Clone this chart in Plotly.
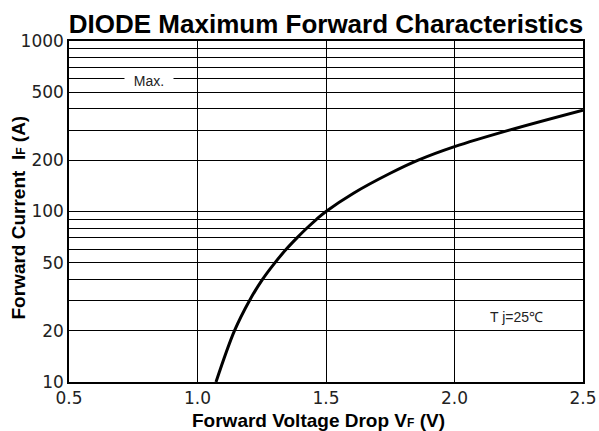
import math
import plotly.graph_objects as go

# Curve (forward voltage V, forward current A)
vf = [1.072, 1.144, 1.202, 1.253, 1.301, 1.345, 1.387, 1.426, 1.463, 1.50, 1.607, 1.748, 1.859, 2.00, 2.213, 2.50]
i_f = [10, 20, 30, 40, 50, 60, 70, 80, 90, 100, 128, 167, 200, 240, 300, 393]

x_ticks = [0.5, 1.0, 1.5, 2.0, 2.5]
y_grid = [10, 20, 30, 40, 50, 60, 70, 80, 90, 100, 200, 300, 400, 500, 600, 700, 800, 900, 1000]
y_labels = {10: "10", 20: "20", 50: "50", 100: "100", 200: "200", 500: "500", 1000: "1000"}
y_ticktext = [y_labels.get(v, "") for v in y_grid]

FONT = "Liberation Sans, Arial, sans-serif"
TICKFONT = "DejaVu Sans, sans-serif"

fig = go.Figure()
fig.add_trace(go.Scatter(x=vf, y=i_f, mode="lines",
                         line=dict(color="black", width=3, shape="spline", smoothing=1.0),
                         showlegend=False, hoverinfo="skip"))

fig.update_layout(
    width=599, height=431,
    margin=dict(l=69, r=16, t=41, b=49),
    paper_bgcolor="white", plot_bgcolor="white",
    font=dict(family=FONT, color="#111"),
    title=dict(text="<b>DIODE Maximum Forward Characteristics</b>",
               font=dict(size=26, color="black", family=FONT),
               x=0.5, xref="paper", xanchor="center",
               y=1 - 23.5 / 431, yref="container", yanchor="middle"),
)

fig.update_xaxes(range=[0.5, 2.5], tickvals=x_ticks, ticktext=[f"{v:.1f}" for v in x_ticks],
                 showgrid=True, gridcolor="black", gridwidth=1,
                 showline=True, linecolor="black", linewidth=1.5, mirror=True,
                 ticks="", tickfont=dict(size=17, color="#222", family=TICKFONT),
                 zeroline=False, automargin=False)
fig.update_yaxes(type="log", range=[1, 3], tickvals=y_grid, ticktext=y_ticktext,
                 showgrid=True, gridcolor="black", gridwidth=1,
                 showline=True, linecolor="black", linewidth=1.5, mirror=True,
                 ticks="", tickfont=dict(size=17, color="#222", family=TICKFONT),
                 zeroline=False, automargin=False)

SMALL = "<span style='font-size:12px'>F</span>"
# axis titles
fig.add_annotation(x=(318 - 69) / 514, y=-(421 - 382) / 341, xref="paper", yref="paper",
                   text=f"<b>Forward Voltage Drop V{SMALL} (V)</b>", showarrow=False,
                   font=dict(size=19, color="black"), xanchor="center", yanchor="middle")
fig.add_annotation(x=-(69 - 18) / 514, y=1 - (217.5 - 41) / 341, xref="paper", yref="paper",
                   text=f"<b>Forward Current  I{SMALL} (A)</b>", showarrow=False, textangle=-90,
                   font=dict(size=19, color="black"), xanchor="center", yanchor="middle")

fig.add_annotation(x=0.81, y=math.log10(600), xref="x", yref="y", text="  Max.  ", showarrow=False,
                   font=dict(size=14, color="#222"), bgcolor="white", yshift=-2,
                   borderpad=1)
fig.add_annotation(x=2.243, y=math.log10(24), xref="x", yref="y", text="T j=25℃", showarrow=False,
                   font=dict(size=14, color="#222"))

fig.write_html("out.html", config={"displayModeBar": False},
               post_script="document.body.style.margin='0';")
